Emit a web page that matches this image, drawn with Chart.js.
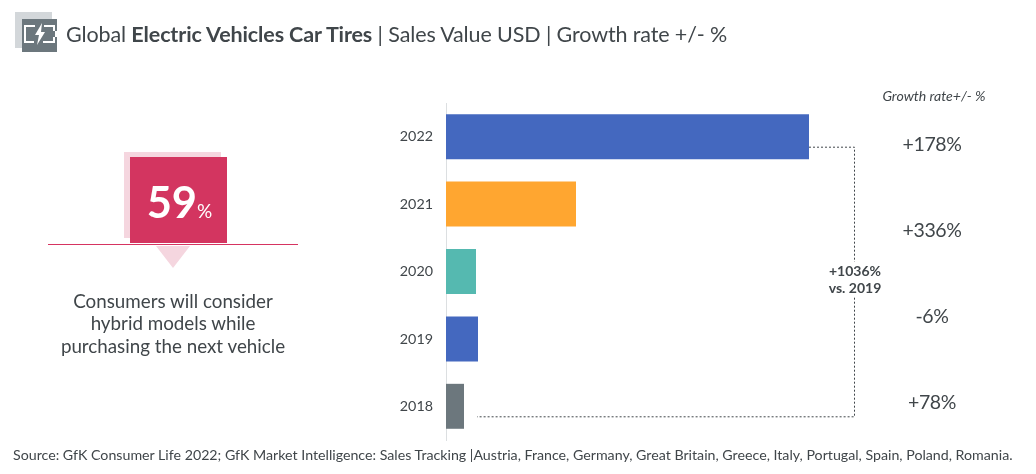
<!DOCTYPE html>
<html>
<head>
<meta charset="utf-8">
<title>Global Electric Vehicles Car Tires</title>
<script src="https://cdn.jsdelivr.net/npm/chart.js@4/dist/chart.umd.min.js"></script>
<style>
  html, body { margin: 0; padding: 0; background: #fff; }
  body { width: 1036px; height: 474px; position: relative; overflow: hidden; font-family: Lato, sans-serif; color: #40464a; }
  #chart { position: absolute; left: 0; top: 0; }
  .abs { position: absolute; white-space: nowrap; }
  .box { position: absolute; }
  #title { left: 66px; top: 20px; font-size: 21.5px; line-height: 28px; letter-spacing: -0.12px; }
  #big { left: 131px; top: 177px; width: 97px; text-align: center; color: #fff; font-size: 43.5px; line-height: 48px; font-weight: 700; }
  #big span { font-size: 19px; font-weight: 400; margin-left: 0; }
  #note { left: 48px; top: 290px; width: 250px; text-align: center; font-size: 18.8px; line-height: 22.3px; }
  #growthHead { left: 834px; width: 200px; top: 87px; text-align: center; font-size: 14.1px; line-height: 18px; font-style: italic; }
  .growth { left: 832px; width: 200px; text-align: center; font-size: 19.5px; line-height: 24px; letter-spacing: -0.4px; }
  #source { left: 13px; top: 446px; font-size: 14.21px; line-height: 18px; }
</style>
</head>
<body>
<canvas id="chart" width="1036" height="474"></canvas>

<svg class="box" style="left:0;top:0" width="70" height="60">
  <rect x="15" y="12" width="37" height="36" fill="#d3d7da"/>
  <rect x="22" y="19" width="35" height="33" fill="#6c777d"/>
  <path d="M35 26H25V42H34M44 26H54V31M54 37V42H43" fill="none" stroke="#fff" stroke-width="2"/>
  <rect x="55" y="31" width="2" height="6" fill="#fff"/>
  <path d="M42 23L35 35H39L37 45L45 32H41Z" fill="#fff"/>
</svg>
<div id="title" class="abs">Global <b>Electric Vehicles Car Tires</b> | Sales Value USD | Growth rate +/- %</div>

<div class="box" style="left:124px;top:152px;width:97px;height:86px;background:#f5d6df"></div>
<div class="box" style="left:130px;top:157px;width:97px;height:86px;background:#d33560"></div>
<div class="box" style="left:48px;top:244px;width:250px;height:1px;background:#d63461"></div>
<svg class="box" style="left:150px;top:245px" width="46" height="25">
  <path d="M6 1H40L23 23Z" fill="#f5d6df"/>
</svg>
<div id="big" class="abs">59<span>%</span></div>
<div id="note" class="abs">Consumers will consider<br>hybrid models while<br>purchasing the next vehicle</div>

<div id="growthHead" class="abs">Growth rate+/- %</div>
<div id="source" class="abs">Source: GfK Consumer Life 2022; GfK Market Intelligence: Sales Tracking |Austria, France, Germany, Great Britain, Greece, Italy, Portugal, Spain, Poland, Romania.</div>

<script>
// valeurs (echelle relative, pas de valeurs USD dans l'original)
const years = ['2022', '2021', '2020', '2019', '2018'];
const salesValue = [363, 130, 30, 32, 18];
const barColors = ['#4468bf', '#ffa630', '#55b9b0', '#4468bf', '#6c777d'];
const growthLabels = ['+178%', '+336%', '-6%', '+78%'];
const totalLabel = ['+1036%', 'vs. 2019'];

growthLabels.forEach(function (txt, i) {
  const el = document.createElement('div');
  el.className = 'abs growth';
  el.style.top = (132 + 86 * i) + 'px';
  el.textContent = txt;
  document.body.appendChild(el);
});

// ligne pointillee + libelle du total
const connector = {
  id: 'connector',
  afterDatasetsDraw(chart) {
    const ctx = chart.ctx;
    const x = chart.scales.x;
    const y = chart.scales.y;
    const startX = x.getPixelForValue(salesValue[0]);
    const startY = y.getPixelForValue(0) + 10;
    const endX = x.getPixelForValue(salesValue[3]) - 1;
    const endY = y.getPixelForValue(years.length - 1) + 10;
    const sideX = 854.5;

    ctx.save();
    ctx.strokeStyle = '#40464a';
    ctx.lineWidth = 1;
    ctx.setLineDash([2, 2]);
    ctx.beginPath();
    ctx.moveTo(startX, startY + 0.5);
    ctx.lineTo(sideX, startY + 0.5);
    ctx.lineTo(sideX, endY + 0.5);
    ctx.lineTo(endX, endY + 0.5);
    ctx.stroke();
    ctx.setLineDash([]);

    ctx.fillStyle = '#fff';
    ctx.fillRect(826, 262, 58, 34);
    ctx.fillStyle = '#40464a';
    ctx.font = '700 14px Lato';
    ctx.textAlign = 'center';
    ctx.textBaseline = 'middle';
    ctx.fillText(totalLabel[0], 855, 271);
    ctx.fillText(totalLabel[1], 855, 288);
    ctx.restore();
  }
};

window.addEventListener('load', function () {
  const ctx = document.getElementById('chart').getContext('2d');
  new Chart(ctx, {
    type: 'bar',
    data: {
      labels: years,
      datasets: [{
        data: salesValue,
        backgroundColor: barColors,
        categoryPercentage: 1,
        barPercentage: 0.667,
        borderWidth: 0
      }]
    },
    options: {
      indexAxis: 'y',
      responsive: false,
      animation: false,
      layout: { padding: { top: 103, bottom: 34, right: 190 } },
      plugins: { legend: { display: false }, tooltip: { enabled: false } },
      scales: {
        x: { display: false, min: 0, max: 400 },
        y: {
          afterFit: function (scale) { scale.width = 446; },
          grid: { display: false, drawTicks: false },
          border: { display: true, color: '#dcdfe1', width: 1 },
          ticks: { color: '#40464a', font: { family: 'Lato', size: 14.3 }, padding: 13 }
        }
      }
    },
    plugins: [connector]
  });
});
</script>
</body>
</html>
